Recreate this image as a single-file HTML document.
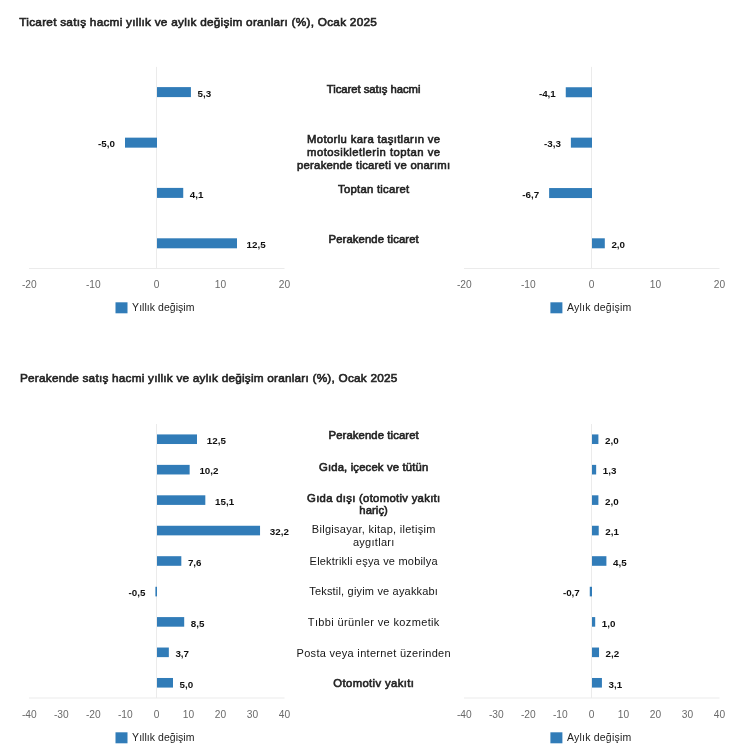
<!DOCTYPE html>
<html lang="tr">
<head>
<meta charset="utf-8">
<title>Ticaret satış hacmi</title>
<style>
html,body{margin:0;padding:0;background:#fff;}
svg{display:block;font-family:"Liberation Sans",Arial,sans-serif;}
</style>
</head>
<body>
<svg width="750" height="746" viewBox="0 0 750 746">
<rect x="0" y="0" width="750" height="746" fill="#ffffff"/>
<text x="19.3" y="25.9" font-size="11.8" stroke="#222" stroke-width="0.6" fill="#222" textLength="357.5" lengthAdjust="spacing">Ticaret satış hacmi yıllık ve aylık değişim oranları (%), Ocak 2025</text>
<text x="20.0" y="382.0" font-size="11.8" stroke="#222" stroke-width="0.6" fill="#222" textLength="377.3" lengthAdjust="spacing">Perakende satış hacmi yıllık ve aylık değişim oranları (%), Ocak 2025</text>
<rect x="156.00" y="66.90" width="1.00" height="201.60" fill="#ebebeb"/>
<rect x="29.00" y="268.00" width="255.50" height="1.00" fill="#ebebeb"/>
<rect x="157.00" y="87.10" width="33.92" height="10.00" fill="#317cb8"/>
<text x="197.5" y="96.8" font-size="9.8" font-weight="bold" fill="#111">5,3</text>
<rect x="125.00" y="137.65" width="32.00" height="10.00" fill="#317cb8"/>
<text x="115.0" y="147.4" font-size="9.8" font-weight="bold" fill="#111" text-anchor="end">-5,0</text>
<rect x="157.00" y="187.90" width="26.24" height="10.00" fill="#317cb8"/>
<text x="189.8" y="197.6" font-size="9.8" font-weight="bold" fill="#111">4,1</text>
<rect x="157.00" y="238.30" width="80.00" height="10.00" fill="#317cb8"/>
<text x="246.6" y="248.0" font-size="9.8" font-weight="bold" fill="#111">12,5</text>
<text x="29.3" y="287.8" font-size="10.2" fill="#6a6a6a" text-anchor="middle">-20</text>
<text x="93.3" y="287.8" font-size="10.2" fill="#6a6a6a" text-anchor="middle">-10</text>
<text x="156.5" y="287.8" font-size="10.2" fill="#6a6a6a" text-anchor="middle">0</text>
<text x="220.5" y="287.8" font-size="10.2" fill="#6a6a6a" text-anchor="middle">10</text>
<text x="284.5" y="287.8" font-size="10.2" fill="#6a6a6a" text-anchor="middle">20</text>
<rect x="115.50" y="302.30" width="12.00" height="11.00" fill="#317cb8"/>
<text x="132.1" y="311.1" font-size="10.5" fill="#222" textLength="62.4" lengthAdjust="spacing">Yıllık değişim</text>
<rect x="591.00" y="66.90" width="1.00" height="201.60" fill="#ebebeb"/>
<rect x="464.00" y="268.00" width="255.50" height="1.00" fill="#ebebeb"/>
<rect x="565.76" y="87.25" width="26.24" height="10.00" fill="#317cb8"/>
<text x="555.8" y="97.0" font-size="9.8" font-weight="bold" fill="#111" text-anchor="end">-4,1</text>
<rect x="570.88" y="137.65" width="21.12" height="10.00" fill="#317cb8"/>
<text x="560.9" y="147.4" font-size="9.8" font-weight="bold" fill="#111" text-anchor="end">-3,3</text>
<rect x="549.12" y="188.05" width="42.88" height="10.00" fill="#317cb8"/>
<text x="539.1" y="197.8" font-size="9.8" font-weight="bold" fill="#111" text-anchor="end">-6,7</text>
<rect x="592.00" y="238.30" width="12.80" height="10.00" fill="#317cb8"/>
<text x="611.4" y="248.0" font-size="9.8" font-weight="bold" fill="#111">2,0</text>
<text x="464.3" y="287.8" font-size="10.2" fill="#6a6a6a" text-anchor="middle">-20</text>
<text x="528.3" y="287.8" font-size="10.2" fill="#6a6a6a" text-anchor="middle">-10</text>
<text x="591.5" y="287.8" font-size="10.2" fill="#6a6a6a" text-anchor="middle">0</text>
<text x="655.5" y="287.8" font-size="10.2" fill="#6a6a6a" text-anchor="middle">10</text>
<text x="719.5" y="287.8" font-size="10.2" fill="#6a6a6a" text-anchor="middle">20</text>
<rect x="550.40" y="302.30" width="12.00" height="11.00" fill="#317cb8"/>
<text x="567.0" y="311.1" font-size="10.5" fill="#222" textLength="64.2" lengthAdjust="spacing">Aylık değişim</text>
<rect x="156.00" y="424.00" width="1.00" height="274.00" fill="#ebebeb"/>
<rect x="29.00" y="697.50" width="255.50" height="1.00" fill="#ebebeb"/>
<rect x="157.00" y="434.42" width="40.00" height="9.60" fill="#317cb8"/>
<text x="206.8" y="443.9" font-size="9.8" font-weight="bold" fill="#111">12,5</text>
<rect x="157.00" y="464.87" width="32.64" height="9.60" fill="#317cb8"/>
<text x="199.4" y="474.4" font-size="9.8" font-weight="bold" fill="#111">10,2</text>
<rect x="157.00" y="495.31" width="48.32" height="9.60" fill="#317cb8"/>
<text x="215.1" y="504.8" font-size="9.8" font-weight="bold" fill="#111">15,1</text>
<rect x="157.00" y="525.76" width="103.04" height="9.60" fill="#317cb8"/>
<text x="269.8" y="535.3" font-size="9.8" font-weight="bold" fill="#111">32,2</text>
<rect x="157.00" y="556.20" width="24.32" height="9.60" fill="#317cb8"/>
<text x="187.9" y="565.7" font-size="9.8" font-weight="bold" fill="#111">7,6</text>
<rect x="155.40" y="586.79" width="1.60" height="9.60" fill="#317cb8"/>
<text x="145.4" y="596.3" font-size="9.8" font-weight="bold" fill="#111" text-anchor="end">-0,5</text>
<rect x="157.00" y="617.09" width="27.20" height="9.60" fill="#317cb8"/>
<text x="190.8" y="626.6" font-size="9.8" font-weight="bold" fill="#111">8,5</text>
<rect x="157.00" y="647.53" width="11.84" height="9.60" fill="#317cb8"/>
<text x="175.4" y="657.0" font-size="9.8" font-weight="bold" fill="#111">3,7</text>
<rect x="157.00" y="677.98" width="16.00" height="9.60" fill="#317cb8"/>
<text x="179.6" y="687.5" font-size="9.8" font-weight="bold" fill="#111">5,0</text>
<text x="29.3" y="717.8" font-size="10.2" fill="#6a6a6a" text-anchor="middle">-40</text>
<text x="61.3" y="717.8" font-size="10.2" fill="#6a6a6a" text-anchor="middle">-30</text>
<text x="93.3" y="717.8" font-size="10.2" fill="#6a6a6a" text-anchor="middle">-20</text>
<text x="125.3" y="717.8" font-size="10.2" fill="#6a6a6a" text-anchor="middle">-10</text>
<text x="156.5" y="717.8" font-size="10.2" fill="#6a6a6a" text-anchor="middle">0</text>
<text x="188.5" y="717.8" font-size="10.2" fill="#6a6a6a" text-anchor="middle">10</text>
<text x="220.5" y="717.8" font-size="10.2" fill="#6a6a6a" text-anchor="middle">20</text>
<text x="252.5" y="717.8" font-size="10.2" fill="#6a6a6a" text-anchor="middle">30</text>
<text x="284.5" y="717.8" font-size="10.2" fill="#6a6a6a" text-anchor="middle">40</text>
<rect x="115.50" y="732.30" width="12.00" height="11.00" fill="#317cb8"/>
<text x="132.1" y="741.1" font-size="10.5" fill="#222" textLength="62.4" lengthAdjust="spacing">Yıllık değişim</text>
<rect x="591.00" y="424.00" width="1.00" height="274.00" fill="#ebebeb"/>
<rect x="464.00" y="697.50" width="255.50" height="1.00" fill="#ebebeb"/>
<rect x="592.00" y="434.42" width="6.40" height="9.60" fill="#317cb8"/>
<text x="605.0" y="443.9" font-size="9.8" font-weight="bold" fill="#111">2,0</text>
<rect x="592.00" y="464.87" width="4.16" height="9.60" fill="#317cb8"/>
<text x="602.8" y="474.4" font-size="9.8" font-weight="bold" fill="#111">1,3</text>
<rect x="592.00" y="495.31" width="6.40" height="9.60" fill="#317cb8"/>
<text x="605.0" y="504.8" font-size="9.8" font-weight="bold" fill="#111">2,0</text>
<rect x="592.00" y="525.76" width="6.72" height="9.60" fill="#317cb8"/>
<text x="605.3" y="535.3" font-size="9.8" font-weight="bold" fill="#111">2,1</text>
<rect x="592.00" y="556.20" width="14.40" height="9.60" fill="#317cb8"/>
<text x="613.0" y="565.7" font-size="9.8" font-weight="bold" fill="#111">4,5</text>
<rect x="589.76" y="586.79" width="2.24" height="9.60" fill="#317cb8"/>
<text x="579.8" y="596.3" font-size="9.8" font-weight="bold" fill="#111" text-anchor="end">-0,7</text>
<rect x="592.00" y="617.09" width="3.20" height="9.60" fill="#317cb8"/>
<text x="601.8" y="626.6" font-size="9.8" font-weight="bold" fill="#111">1,0</text>
<rect x="592.00" y="647.53" width="7.04" height="9.60" fill="#317cb8"/>
<text x="605.6" y="657.0" font-size="9.8" font-weight="bold" fill="#111">2,2</text>
<rect x="592.00" y="677.98" width="9.92" height="9.60" fill="#317cb8"/>
<text x="608.5" y="687.5" font-size="9.8" font-weight="bold" fill="#111">3,1</text>
<text x="464.3" y="717.8" font-size="10.2" fill="#6a6a6a" text-anchor="middle">-40</text>
<text x="496.3" y="717.8" font-size="10.2" fill="#6a6a6a" text-anchor="middle">-30</text>
<text x="528.3" y="717.8" font-size="10.2" fill="#6a6a6a" text-anchor="middle">-20</text>
<text x="560.3" y="717.8" font-size="10.2" fill="#6a6a6a" text-anchor="middle">-10</text>
<text x="591.5" y="717.8" font-size="10.2" fill="#6a6a6a" text-anchor="middle">0</text>
<text x="623.5" y="717.8" font-size="10.2" fill="#6a6a6a" text-anchor="middle">10</text>
<text x="655.5" y="717.8" font-size="10.2" fill="#6a6a6a" text-anchor="middle">20</text>
<text x="687.5" y="717.8" font-size="10.2" fill="#6a6a6a" text-anchor="middle">30</text>
<text x="719.5" y="717.8" font-size="10.2" fill="#6a6a6a" text-anchor="middle">40</text>
<rect x="550.40" y="732.30" width="12.00" height="11.00" fill="#317cb8"/>
<text x="567.0" y="741.1" font-size="10.5" fill="#222" textLength="64.2" lengthAdjust="spacing">Aylık değişim</text>
<text x="373.6" y="92.7" font-size="11.3" stroke="#222" stroke-width="0.6" fill="#222" text-anchor="middle" textLength="93.7" lengthAdjust="spacing">Ticaret satış hacmi</text>
<text x="373.6" y="142.6" font-size="11.3" stroke="#222" stroke-width="0.6" fill="#222" text-anchor="middle" textLength="133.0" lengthAdjust="spacing">Motorlu kara taşıtların ve</text>
<text x="373.6" y="155.9" font-size="11.3" stroke="#222" stroke-width="0.6" fill="#222" text-anchor="middle" textLength="133.0" lengthAdjust="spacing">motosikletlerin toptan ve</text>
<text x="373.6" y="169.2" font-size="11.3" stroke="#222" stroke-width="0.6" fill="#222" text-anchor="middle" textLength="153.1" lengthAdjust="spacing">perakende ticareti ve onarımı</text>
<text x="373.6" y="192.9" font-size="11.3" stroke="#222" stroke-width="0.6" fill="#222" text-anchor="middle" textLength="71.2" lengthAdjust="spacing">Toptan ticaret</text>
<text x="373.6" y="242.9" font-size="11.3" stroke="#222" stroke-width="0.6" fill="#222" text-anchor="middle" textLength="90.1" lengthAdjust="spacing">Perakende ticaret</text>
<text x="373.6" y="439.4" font-size="11.3" stroke="#222" stroke-width="0.6" fill="#222" text-anchor="middle" textLength="90.1" lengthAdjust="spacing">Perakende ticaret</text>
<text x="373.6" y="470.8" font-size="11.3" stroke="#222" stroke-width="0.6" fill="#222" text-anchor="middle" textLength="109.3" lengthAdjust="spacing">Gıda, içecek ve tütün</text>
<text x="373.6" y="501.5" font-size="11.3" stroke="#222" stroke-width="0.6" fill="#222" text-anchor="middle" textLength="133.1" lengthAdjust="spacing">Gıda dışı (otomotiv yakıtı</text>
<text x="373.6" y="514.3" font-size="11.3" stroke="#222" stroke-width="0.6" fill="#222" text-anchor="middle" textLength="28.5" lengthAdjust="spacing">hariç)</text>
<text x="373.6" y="533.2" font-size="11" fill="#151515" text-anchor="middle" textLength="123.5" lengthAdjust="spacing">Bilgisayar, kitap, iletişim</text>
<text x="373.6" y="546.1" font-size="11" fill="#151515" text-anchor="middle" textLength="41.4" lengthAdjust="spacing">aygıtları</text>
<text x="373.6" y="564.7" font-size="11" fill="#151515" text-anchor="middle" textLength="128.0" lengthAdjust="spacing">Elektrikli eşya ve mobilya</text>
<text x="373.6" y="595.4" font-size="11" fill="#151515" text-anchor="middle" textLength="128.6" lengthAdjust="spacing">Tekstil, giyim ve ayakkabı</text>
<text x="373.6" y="626.1" font-size="11" fill="#151515" text-anchor="middle" textLength="131.5" lengthAdjust="spacing">Tıbbi ürünler ve kozmetik</text>
<text x="373.6" y="656.5" font-size="11" fill="#151515" text-anchor="middle" textLength="154.1" lengthAdjust="spacing">Posta veya internet üzerinden</text>
<text x="373.6" y="686.8" font-size="11.3" stroke="#222" stroke-width="0.6" fill="#222" text-anchor="middle" textLength="80.5" lengthAdjust="spacing">Otomotiv yakıtı</text>
</svg>
</body>
</html>
